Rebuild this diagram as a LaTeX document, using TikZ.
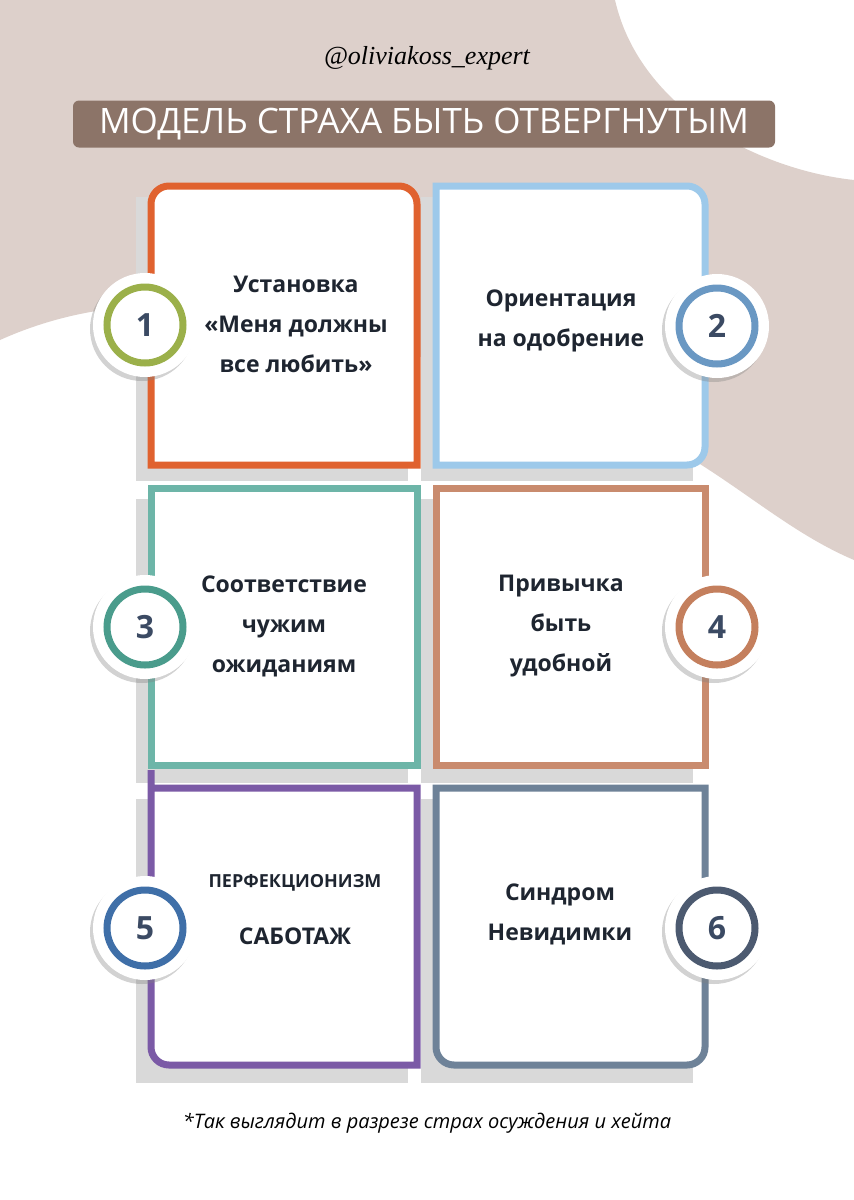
\documentclass[tikz,border=0pt]{standalone}
\usepackage{fontspec}
\setmainfont{Open Sans}
\usetikzlibrary{shadows}
\definecolor{bg}{HTML}{DDD0CB}
\definecolor{ban}{HTML}{8C7468}
\definecolor{txt}{HTML}{1E2530}
\definecolor{num}{HTML}{3B4A63}
\definecolor{b1}{HTML}{E0622F}
\definecolor{b2}{HTML}{9DC9EA}
\definecolor{b3}{HTML}{6DB5A8}
\definecolor{b4}{HTML}{C98B6E}
\definecolor{b5}{HTML}{7B5AA6}
\definecolor{b6}{HTML}{6E8298}
\definecolor{r1}{HTML}{9BB04A}
\definecolor{r2}{HTML}{6A98C3}
\definecolor{r3}{HTML}{4A9C8C}
\definecolor{r4}{HTML}{C47F5D}
\definecolor{r5}{HTML}{3F6FA8}
\definecolor{r6}{HTML}{4C5A70}
\begin{document}
\begin{tikzpicture}[x=1pt,y=-1pt,
  boxst/.style={draw=#1,line width=7pt,fill=white},
  lbl/.style={font=\bfseries\fontsize{23}{40}\selectfont,text=txt,align=center},
  numst/.style={font=\bfseries\fontsize{32}{32}\selectfont,text=num}]
\useasboundingbox (0,0) rectangle (854,1200);
\fill[white] (0,0) rectangle (854,1200);
\fill[bg] (0,0) -- (615,0) .. controls (640,110) and (760,170) .. (854,180)
  -- (854,560) .. controls (760,520) and (700,440) .. (560,400)
  .. controls (400,360) and (200,250) .. (0,340) -- cycle;
\node (handle) at (427,58) {\fontspec{Liberation Serif}\itshape\fontsize{26}{26}\selectfont @oliviakoss\_expert};
\node (title) [fill=ban,rounded corners=6pt,minimum width=702pt,minimum height=47pt,text=white,font=\fontsize{35}{35}\selectfont] at (424,124) {МОДЕЛЬ СТРАХА БЫТЬ ОТВЕРГНУТЫМ};
\foreach \x/\y in {148/183,433/183,148/485,433/485,148/785,433/785}
  \fill[gray!30] (\x-12,\y+14) rectangle (\x+260,\y+298);
\draw[boxst=b1] (151,465) {[rounded corners=18pt] -- (151,186) -- (417,186)} -- (417,465) -- cycle;
\draw[boxst=b2] (436,465) -- (436,186) {[rounded corners=18pt] -- (705,186) -- (705,465)} -- cycle;
\draw[boxst=b3] (151,488) rectangle (417,765);
\draw[boxst=b4] (436,488) rectangle (705,765);
\draw[boxst=b5] (151,788) -- (417,788) -- (417,1065) {[rounded corners=18pt] -- (151,1065) -- (151,788)} -- cycle;
\draw[boxst=b6] (436,788) -- (705,788) {[rounded corners=18pt] -- (705,1065) -- (436,1065)} -- cycle;
\foreach \n/\cx/\cy in {1/145/325,2/717/326,3/145/627,4/717/627,5/145/928,6/717/928}{
  \fill[white,drop shadow={shadow xshift=-3pt,shadow yshift=-4pt,opacity=0.35}] (\cx,\cy) circle (52);
  \draw[r\n,line width=7pt] (\cx,\cy) circle (38);
  \node[numst] (n\n) at (\cx,\cy) {\n};
}
\node[lbl] (t1) at (296,324) {Установка\\«Меня должны\\все любить»};
\node[lbl] (t2) at (561,321) {Ориентация\\на одобрение};
\node[lbl] (t3) at (284,626) {Соответствие\\чужим\\ожиданиям};
\node[lbl] (t4) at (561,626) {Привычка\\быть\\удобной};
\node[lbl,font=\bfseries\fontsize{18}{18}\selectfont] (t5a) at (295,883) {ПЕРФЕКЦИОНИЗМ};
\node[lbl] (t5b) at (295,936) {САБОТАЖ};
\node[lbl] (t6) at (560,914) {Синдром\\Невидимки};
\node (foot) at (427,1123) {\itshape\fontsize{20}{20}\selectfont *Так выглядит в разрезе страх осуждения и хейта};
\end{tikzpicture}
\end{document}
